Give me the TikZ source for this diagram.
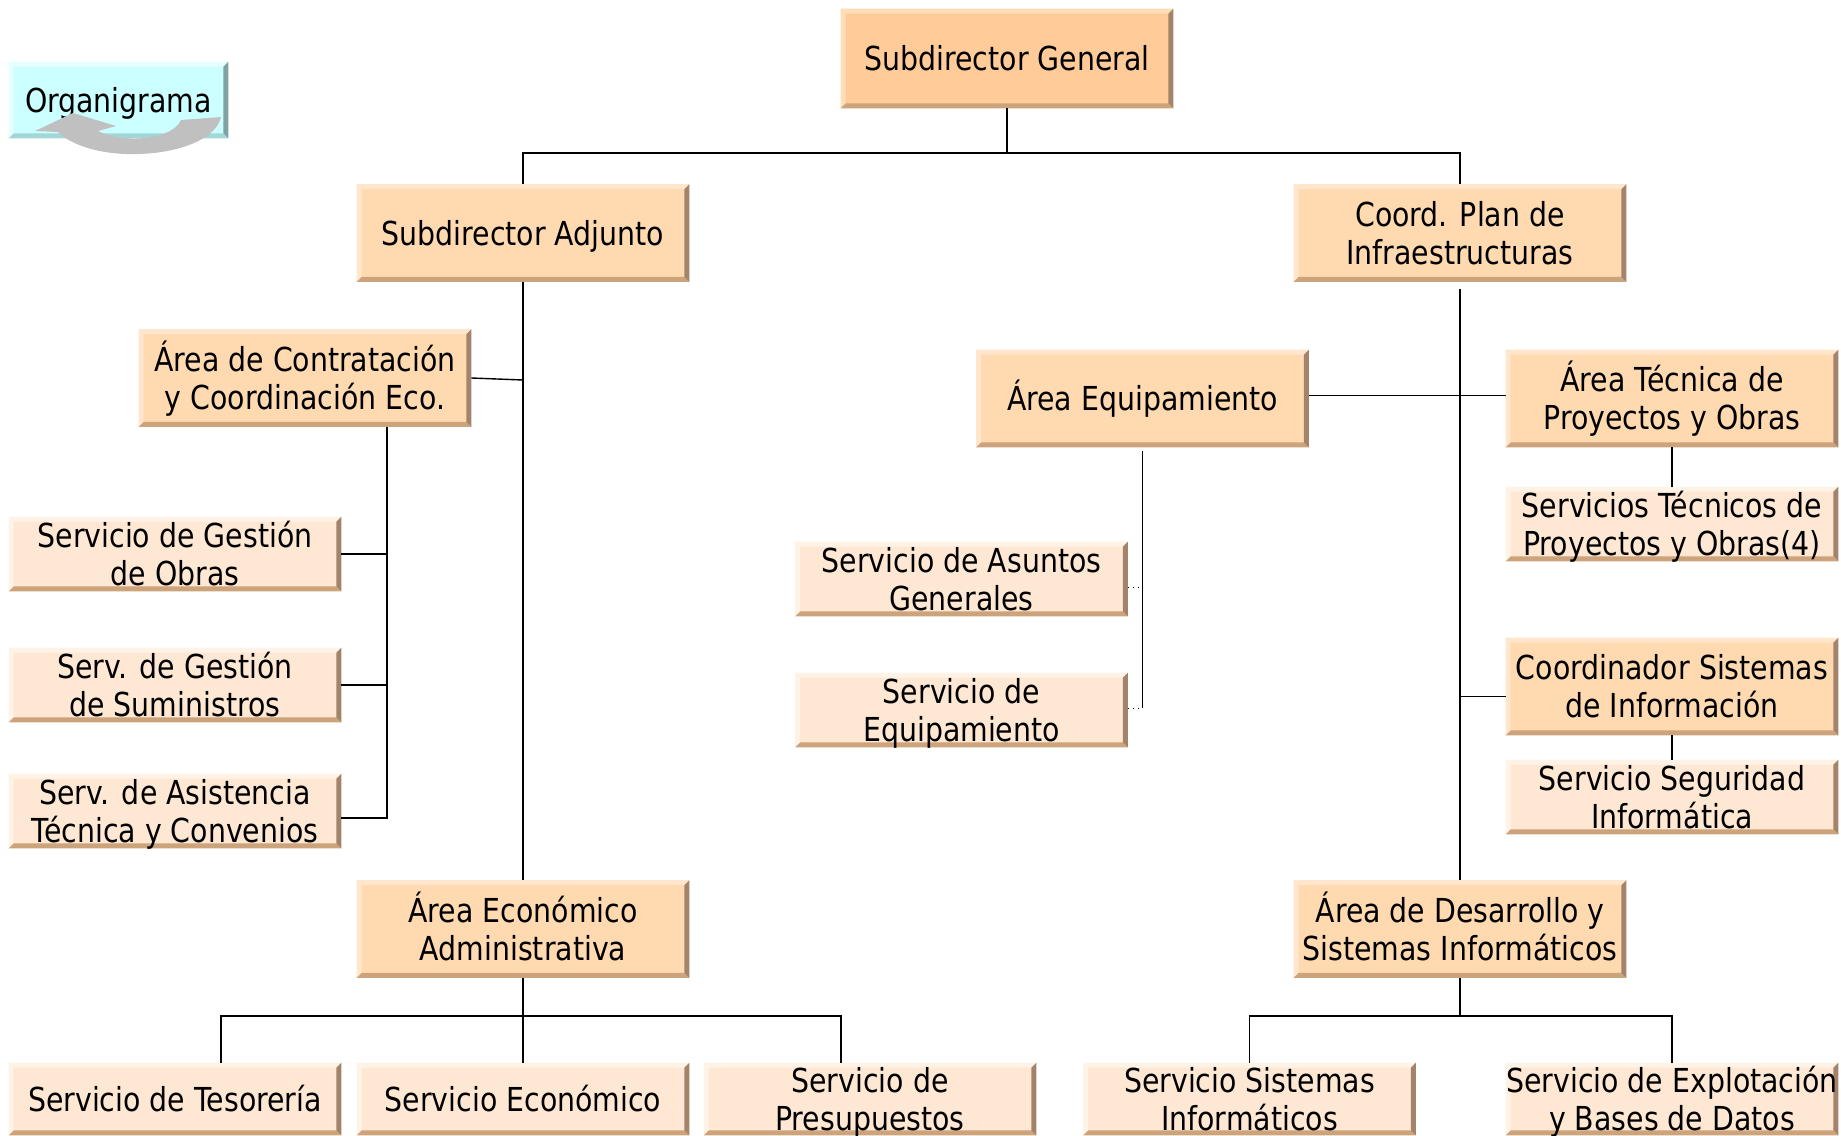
\documentclass[tikz,border=0pt]{standalone}
\usepackage{fontspec}
\setmainfont{DejaVu Sans}[FakeStretch=0.86]
\usetikzlibrary{calc,backgrounds}

\definecolor{sgface}{HTML}{FFCC99}
\definecolor{sglight}{HTML}{FFDDB8}
\definecolor{areaface}{HTML}{FFD9B0}
\definecolor{arealight}{HTML}{FFE6CC}
\definecolor{servface}{HTML}{FFE8D3}
\definecolor{servlight}{HTML}{FFF3E8}
\definecolor{edgebottom}{HTML}{CCA37A}
\definecolor{edgeright}{HTML}{A3846A}
\definecolor{orgface}{HTML}{CCFFFF}
\definecolor{orglight}{HTML}{E6FFFF}
\definecolor{orgbottom}{HTML}{A3D6D6}
\definecolor{orgright}{HTML}{7FA3A3}
\definecolor{arrowgray}{HTML}{C0C0C0}

% bevelled box behind a node: name, face, light, bottom, right
\newcommand{\bevel}[5]{%
  \begin{pgfonlayer}{background}
    \fill[#2] (#1.north west) rectangle (#1.south east);
    \fill[#3] (#1.north west) -- (#1.north east) -- ($(#1.north east)+(-5,5)$) -- ($(#1.north west)+(5,5)$) -- ($(#1.south west)+(5,-5)$) -- (#1.south west) -- cycle;
    \fill[#4] (#1.south west) -- (#1.south east) -- ($(#1.south east)+(-5,-5)$) -- ($(#1.south west)+(5,-5)$) -- cycle;
    \fill[#5] (#1.north east) -- (#1.south east) -- ($(#1.south east)+(-5,-5)$) -- ($(#1.north east)+(-5,5)$) -- cycle;
  \end{pgfonlayer}}

\tikzset{
  box/.style={rectangle, inner xsep=0pt, inner ysep=-4pt, minimum width=166pt, align=center,
    font=\fontsize{16.5}{19}\selectfont,
    execute at begin node={\rule{0pt}{16pt}}, execute at end node={\rule[-4pt]{0pt}{4pt}}},
  twoline/.style={execute at begin node={\rule{0pt}{35pt}}},
  topbox/.style={box, minimum height=49.5pt},
  areabox/.style={box, minimum height=48.5pt},
  servbox/.style={box, minimum height=37pt},
  lowbox/.style={box, minimum height=36pt},
  link/.style={line width=0.7pt},
  sublink/.style={line width=0.5pt, dotted},
}

\begin{document}
\begin{tikzpicture}[x=0.5pt,y=0.5pt,yscale=-1,xscale=1]
	\useasboundingbox (0,0) rectangle (1841,1135);

	% Title box
	\node[box, minimum width=109.5pt, minimum height=38pt] (org) at (118.5,100) {Organigrama};
	\bevel{org}{orgface}{orglight}{orgbottom}{orgright}

	% Top levels
	\node[topbox] (sg) at (1007,58.5) {Subdirector General};
	\node[areabox] (sa) at (523,233) {Subdirector Adjunto};
	\node[areabox, twoline] (coord) at (1460,233) {Coord. Plan de\\Infraestructuras};
	\bevel{sg}{sgface}{sglight}{edgebottom}{edgeright}
	\bevel{sa}{areaface}{arealight}{edgebottom}{edgeright}
	\bevel{coord}{areaface}{arealight}{edgebottom}{edgeright}

	% Left branch
	\node[areabox, twoline] (ac) at (305,378) {Área de Contratación\\y Coordinación Eco.};
	\node[servbox, twoline] (sgo) at (175,554) {Servicio de Gestión\\de Obras};
	\node[servbox, twoline] (sgs) at (175,685) {Serv. de Gestión\\de Suministros};
	\node[servbox, twoline] (sat) at (175,811) {Serv. de Asistencia\\Técnica y Convenios};
	\node[areabox, twoline] (aea) at (523,929) {Área Económico\\Administrativa};
	\bevel{ac}{areaface}{arealight}{edgebottom}{edgeright}
	\bevel{sgo}{servface}{servlight}{edgebottom}{edgeright}
	\bevel{sgs}{servface}{servlight}{edgebottom}{edgeright}
	\bevel{sat}{servface}{servlight}{edgebottom}{edgeright}
	\bevel{aea}{areaface}{arealight}{edgebottom}{edgeright}

	% Right branch
	\node[areabox] (aeq) at (1142.5,398.5) {Área Equipamiento};
	\node[servbox, twoline] (sag) at (961.5,579) {Servicio de Asuntos\\Generales};
	\node[servbox, twoline] (seq) at (961.5,710) {Servicio de\\Equipamiento};
	\node[areabox, twoline] (atp) at (1672,398.5) {Área Técnica de\\Proyectos y Obras};
	\node[servbox, twoline] (stp) at (1672,524) {Servicios Técnicos de\\Proyectos y Obras(4)};
	\node[areabox, twoline] (csi) at (1672,686.5) {Coordinador Sistemas\\de Información};
	\node[servbox, twoline] (ssi) at (1672,797) {Servicio Seguridad\\Informática};
	\node[areabox, twoline] (ads) at (1460,929) {Área de Desarrollo y\\Sistemas Informáticos};
	\bevel{aeq}{areaface}{arealight}{edgebottom}{edgeright}
	\bevel{sag}{servface}{servlight}{edgebottom}{edgeright}
	\bevel{seq}{servface}{servlight}{edgebottom}{edgeright}
	\bevel{atp}{areaface}{arealight}{edgebottom}{edgeright}
	\bevel{stp}{servface}{servlight}{edgebottom}{edgeright}
	\bevel{csi}{areaface}{arealight}{edgebottom}{edgeright}
	\bevel{ssi}{servface}{servlight}{edgebottom}{edgeright}
	\bevel{ads}{areaface}{arealight}{edgebottom}{edgeright}

	% Bottom row
	\node[lowbox] (ste) at (175,1099) {Servicio de Tesorería};
	\node[lowbox] (sec) at (523,1099) {Servicio Económico};
	\node[lowbox, twoline] (spr) at (870,1099) {Servicio de\\Presupuestos};
	\node[lowbox, twoline] (ssin) at (1249.5,1099) {Servicio Sistemas\\Informáticos};
	\node[lowbox, twoline] (sex) at (1672,1099) {Servicio de Explotación\\y Bases de Datos};
	\bevel{ste}{servface}{servlight}{edgebottom}{edgeright}
	\bevel{sec}{servface}{servlight}{edgebottom}{edgeright}
	\bevel{spr}{servface}{servlight}{edgebottom}{edgeright}
	\bevel{ssin}{servface}{servlight}{edgebottom}{edgeright}
	\bevel{sex}{servface}{servlight}{edgebottom}{edgeright}

	% Return arrow over the title
	\fill[arrowgray] (221,117) .. controls (212,158) and (95,168) .. (58,132) -- (35,131) -- (73,113) -- (116,126) -- (98,131) .. controls (125,144) and (172,140) .. (181,120) -- cycle;

	% Connectors
	\coordinate (topbus) at (0,153);
	\coordinate (lowbus) at (0,1016);
	\coordinate (acbus) at (387,0);
	\draw[link] (sg.south) -- (sg.south |- topbus);
	\draw[link] (sa.north) |- (coord.north |- topbus) -- (coord.north);
	\draw[link] (sa.south) -- (aea.north);
	\draw[link] (ac.east) -- ($(ac.east -| sa.south)+(0,2)$);
	\draw[link] (ac.south -| acbus) |- ($(sat.east)+(0,7)$);
	\draw[link] (sgo.east) -- (sgo.east -| acbus);
	\draw[link] (sgs.east) -- (sgs.east -| acbus);
	\draw[link] ($(coord.south)+(0,7)$) -- (ads.north);
	\draw[link] ($(aeq.east)+(0,-3)$) -- ($(atp.west)+(0,-3)$);
	\draw[link] ($(aeq.south)+(0,4)$) -- ($(aeq.south |- seq.east)+(0,-2)$);
	\draw[sublink] ($(sag.east)+(0,8)$) -- ($(sag.east -| aeq.south)+(0,8)$);
	\draw[sublink] ($(seq.east)+(0,-2)$) -- ($(seq.east -| aeq.south)+(0,-2)$);
	\draw[link] (atp.south) -- (stp.north);
	\draw[link] ($(csi.west)+(0,10)$) -- ($(csi.west -| coord.south)+(0,10)$);
	\draw[link] (csi.south) -- (ssi.north);
	\draw[link] (aea.south) -- (sec.north);
	\coordinate (tesin) at ($(ste.north)+(46,0)$);
	\coordinate (prein) at ($(spr.north)+(-29,0)$);
	\draw[link] (tesin) |- (lowbus -| prein) -- (prein);
	\draw[link] (ads.south) -- (ads.south |- lowbus);
	\draw[link] (ssin.north) |- (lowbus -| sex.north) -- (sex.north);

\end{tikzpicture}
\end{document}
